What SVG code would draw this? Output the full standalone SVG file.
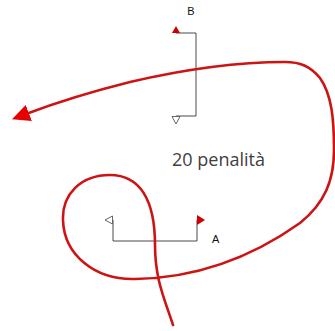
<svg xmlns="http://www.w3.org/2000/svg" width="335" height="331" viewBox="0 0 335 331">
<style>
.frame{fill:none;stroke:#4a4a4a;stroke-width:1}
.open{fill:#fff;stroke:#666;stroke-width:1}
.red{fill:#cc0000;stroke:none}
.lbl{font-family:"Liberation Sans",Arial,sans-serif;font-size:11px;fill:#111}
.pen{font-family:"Open Sans","Noto Sans",sans-serif;font-size:18px;fill:#404040}
.curve{fill:none;stroke:#cc1414;stroke-width:2.6;stroke-linecap:round}
</style>
<defs>
<marker id="ah" markerUnits="userSpaceOnUse" viewBox="0 0 18 17" markerWidth="18" markerHeight="17" refX="3" refY="8.5" orient="auto">
<path d="M0,0 L18,8.5 L0,17 z" fill="#e60000"/>
</marker>
</defs>
<g id="nodeB">
<polyline class="frame" points="176,33 196,33 196,116 176,116"/>
<polygon class="red" points="172,33 180,33 176,26"/>
<polygon class="open" points="172,116.5 180,116.5 176,124"/>
<text class="lbl" x="191" y="15" text-anchor="middle">B</text>
</g>
<g id="nodeA">
<polyline class="frame" points="113,220 113,241 197,241 197,220"/>
<polygon class="open" points="112.5,216 112.5,224 105,220"/>
<polygon class="red" points="197,215 197,225 205,220"/>
<text class="lbl" x="212" y="243">A</text>
</g>
<g id="label">
<text class="pen" x="172" y="166">20 penalità</text>
</g>
<g id="connectors">
<path class="curve" marker-end="url(#ah)" d="M173,325 C165,300 155,280 155,245 C155,200 140,175 110,175 C80,175 62,195 63,220 C64,255 95,280 135,279 C200,278 255,255 300,223 C325,203 334,180 334,150 C334,120 332,95 320,78 C310,66 300,62 285,62 C240,62 190,68 130,82 C90,92 55,103 26,114"/>
</g>
</svg>
